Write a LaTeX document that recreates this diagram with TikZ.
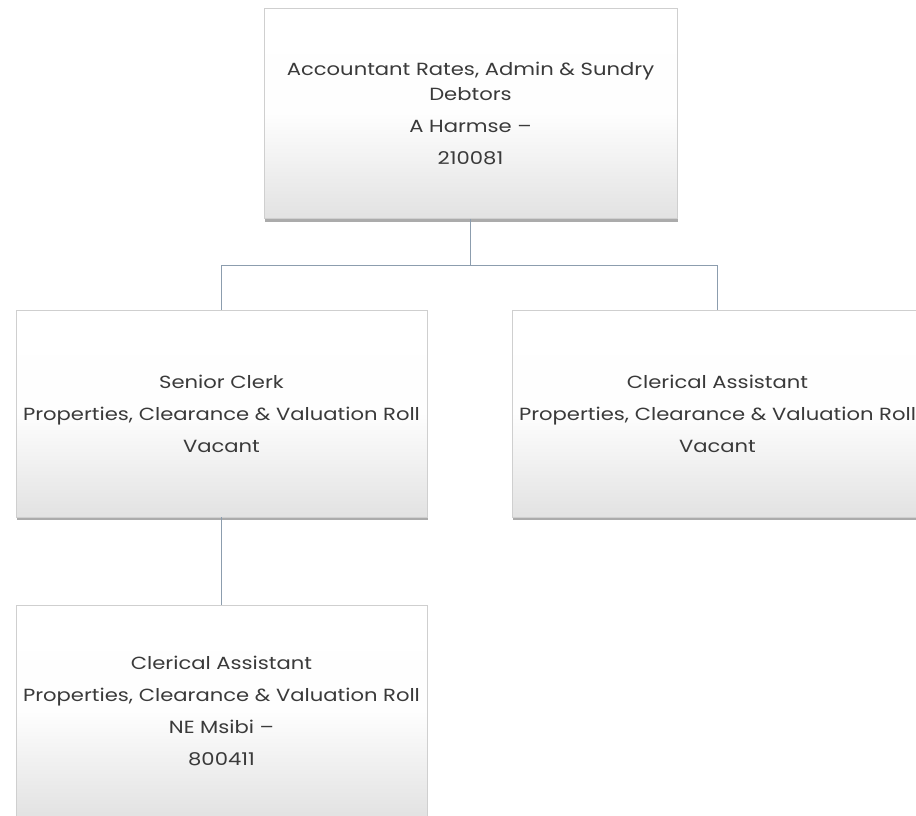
\documentclass[tikz,border=0pt]{standalone}
\usepackage{fontspec}
\setmainfont{Poppins}[FakeStretch=1.2]
\usetikzlibrary{shadows}
\definecolor{boxline}{HTML}{CFCFCF}
\definecolor{boxlow}{HTML}{E2E2E2}
\definecolor{linkline}{HTML}{8C9DAE}
\definecolor{ink}{HTML}{3A3A3A}
\tikzset{
  post/.style={rectangle, draw=boxline, line width=0.8pt,
    top color=white, bottom color=boxlow, middle color=white!96!boxlow,
    text=ink, align=center, inner sep=0pt,
    font=\fontsize{17.6}{25}\selectfont,
    drop shadow={shadow xshift=0.6pt, shadow yshift=-3pt, fill=black!55, opacity=0.6}},
  link/.style={draw=linkline, line width=1pt}
}
\begin{document}
\begin{tikzpicture}[x=1pt,y=-1pt]
  \clip (0,0) rectangle (916,816);
  \fill[white] (0,0) rectangle (916,816);

  \node[post, minimum width=413pt, minimum height=210pt] (head) at (470.5,113.5)
    {Accountant Rates, Admin \& Sundry\\Debtors\\[7pt]A Harmse –\\[7pt]210081};
  \node[post, minimum width=411pt, minimum height=207pt] (senior) at (221.5,413.5)
    {Senior Clerk\\[7pt]Properties, Clearance \& Valuation Roll\\[7pt]Vacant};
  \node[post, minimum width=411pt, minimum height=207pt] (clerkr) at (717.5,413.5)
    {Clerical Assistant\\[7pt]Properties, Clearance \& Valuation Roll\\[7pt]Vacant};
  \node[post, minimum width=411pt, minimum height=212pt] (clerkb) at (221.5,711)
    {Clerical Assistant\\[7pt]Properties, Clearance \& Valuation Roll\\[7pt]NE Msibi –\\[7pt]800411};

  \coordinate (bus) at (470.5,265);
  \draw[link] (head.south) -- (bus) -| (senior.north);
  \draw[link] (bus) -| (clerkr.north);
  \draw[link] (senior.south) -- (clerkb.north);
\end{tikzpicture}
\end{document}
